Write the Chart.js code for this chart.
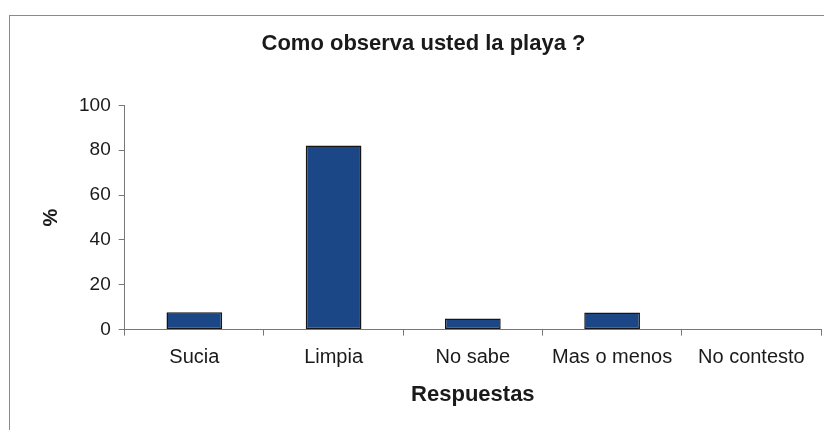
<!DOCTYPE html>
<html>
<head>
<meta charset="utf-8">
<script src="https://cdn.jsdelivr.net/npm/chart.js@4/dist/chart.umd.min.js"></script>
<style>
  html, body { margin: 0; padding: 0; background: #fff; overflow: hidden; }
  #wrap { width: 824px; height: 430px; overflow: hidden; }
</style>
</head>
<body>
<div id="wrap"><canvas id="c" width="846" height="430"></canvas></div>
<script>
const categories = ['Sucia', 'Limpia', 'No sabe', 'Mas o menos', 'No contesto'];
const percentages = [7.7, 82.1, 5.0, 7.6, 0];
const yTicks = [0, 20, 40, 60, 80, 100];

const FONT = "'Liberation Sans', Arial, sans-serif";

// outer frame around the whole chart
const framePlugin = {
  id: 'frame',
  beforeDraw(chart) {
    const ctx = chart.ctx;
    ctx.save();
    ctx.fillStyle = '#fff';
    ctx.fillRect(0, 0, chart.width, chart.height);
    ctx.strokeStyle = '#8a8a8a';
    ctx.lineWidth = 1;
    ctx.strokeRect(9.5, 15.5, 900, 600);
    ctx.restore();
  }
};

new Chart(document.getElementById('c'), {
  type: 'bar',
  data: {
    labels: categories,
    datasets: [{
      data: percentages,
      backgroundColor: '#1b4786',
      borderColor: '#151515',
      borderWidth: 1.5,
      borderSkipped: false,
      barPercentage: 0.8,
      categoryPercentage: 0.5
    }]
  },
  options: {
    responsive: false,
    devicePixelRatio: 1,
    animation: false,
    layout: { padding: { left: 26, right: 25, top: 0, bottom: 22 } },
    plugins: {
      legend: { display: false },
      tooltip: { enabled: false },
      title: {
        display: true,
        text: 'Como observa usted la playa ?',
        color: '#1a1a1a',
        font: { family: FONT, size: 22, weight: 'bold' },
        padding: { top: 31, bottom: 48 }
      }
    },
    scales: {
      x: {
        grid: {
          display: true,
          drawOnChartArea: false,
          drawTicks: true,
          tickLength: 6,
          color: '#777',
          offset: true
        },
        border: { color: '#777', width: 1 },
        ticks: {
          color: '#1a1a1a',
          font: { family: FONT, size: 20 },
          padding: 10,
          maxRotation: 0
        },
        title: {
          display: true,
          text: 'Respuestas',
          color: '#1a1a1a',
          font: { family: FONT, size: 22, weight: 'bold' },
          padding: { top: 2, bottom: 0 }
        }
      },
      y: {
        min: 0,
        max: 100,
        afterBuildTicks(axis) { axis.ticks = yTicks.map(v => ({ value: v })); },
        grid: {
          display: true,
          drawOnChartArea: false,
          drawTicks: true,
          tickLength: 6,
          color: '#777'
        },
        border: { color: '#777', width: 1 },
        ticks: {
          color: '#1a1a1a',
          font: { family: FONT, size: 19 },
          padding: 8
        },
        title: {
          display: true,
          text: '%',
          color: '#1a1a1a',
          font: { family: FONT, size: 20, weight: 'bold' },
          padding: { top: 13, bottom: 8 }
        }
      }
    }
  },
  plugins: [framePlugin]
});
</script>
</body>
</html>
